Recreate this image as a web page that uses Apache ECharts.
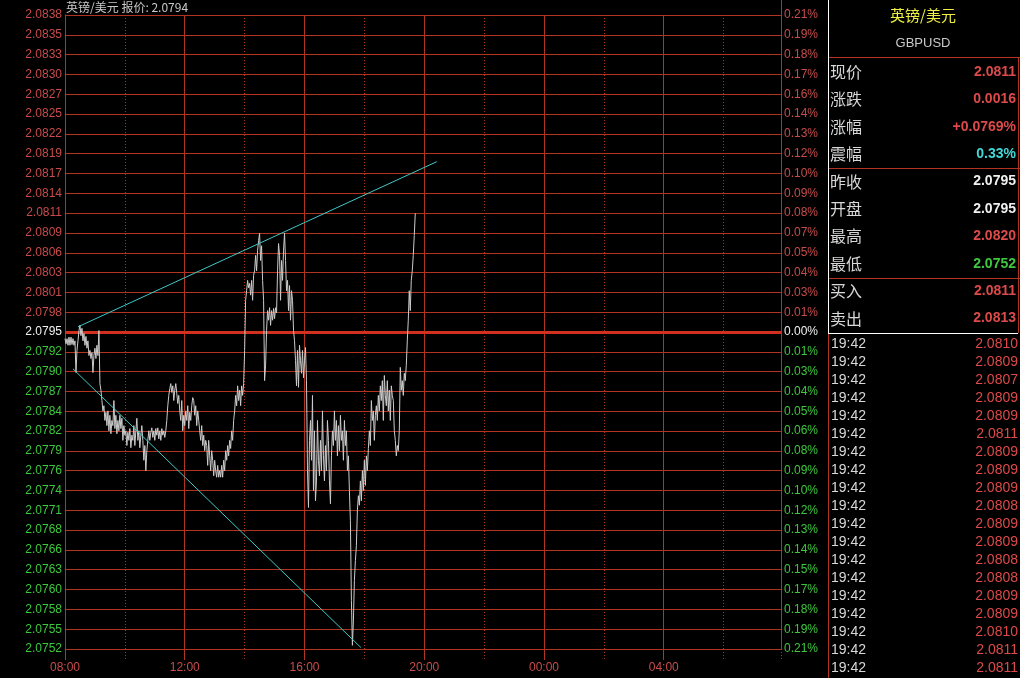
<!DOCTYPE html>
<html><head><meta charset="utf-8">
<script src="https://cdn.jsdelivr.net/npm/echarts@6/dist/echarts.min.js"></script>
<style>html,body{margin:0;padding:0;background:#000}#c{width:1020px;height:678px}</style>
</head><body><div id="c"></div>
<script>
// ---------------- data ----------------
const titleText = '英镑/美元 报价: 2.0794';
const prevClose = 2.0795;
const axisMin = 2.0752;
const axisMax = 2.0838;
const priceLabels = ['2.0838','2.0835','2.0833','2.0830','2.0827','2.0825','2.0822','2.0819','2.0817','2.0814','2.0811','2.0809','2.0806','2.0803','2.0801','2.0798','2.0795','2.0792','2.0790','2.0787','2.0784','2.0782','2.0779','2.0776','2.0774','2.0771','2.0768','2.0766','2.0763','2.0760','2.0758','2.0755','2.0752'];
const pctLabels = ['0.21%','0.19%','0.18%','0.17%','0.16%','0.14%','0.13%','0.12%','0.10%','0.09%','0.08%','0.07%','0.05%','0.04%','0.03%','0.01%','0.00%','0.01%','0.03%','0.04%','0.05%','0.06%','0.08%','0.09%','0.10%','0.12%','0.13%','0.14%','0.15%','0.17%','0.18%','0.19%','0.21%'];
const timeLabels = ['08:00','12:00','16:00','20:00','00:00','04:00'];
const sessionMinutes = 1435;      // minutes shown from 08:00
const sampleStepMin = 2;          // one price every 2 minutes from 08:00
const prices = [
2.07941,2.07934,2.07941,2.07932,2.07943,2.07932,2.07943,2.07933,2.07941,2.07932,2.07938,2.07895,2.07925,2.07938,2.07952,2.07959,2.07945,2.07955,2.07938,2.07948,
2.07932,2.07944,2.07928,2.07938,2.07918,2.07925,2.07914,2.07922,2.07895,2.07918,2.07928,2.07914,2.07932,2.07918,2.07952,2.07880,2.07871,2.07857,2.07843,2.07850,
2.07830,2.07841,2.07823,2.07843,2.07816,2.07837,2.07812,2.07830,2.07823,2.07857,2.07819,2.07837,2.07812,2.07830,2.07816,2.07837,2.07819,2.07833,2.07803,2.07823,
2.07810,2.07816,2.07796,2.07814,2.07803,2.07819,2.07793,2.07810,2.07803,2.07823,2.07796,2.07816,2.07833,2.07803,2.07816,2.07793,2.07810,2.07823,2.07803,2.07776,
2.07796,2.07762,2.07789,2.07803,2.07816,2.07803,2.07814,2.07820,2.07807,2.07816,2.07803,2.07819,2.07810,2.07820,2.07805,2.07816,2.07803,2.07819,2.07810,2.07816,
2.07807,2.07816,2.07830,2.07850,2.07864,2.07873,2.07880,2.07868,2.07877,2.07857,2.07871,2.07880,2.07867,2.07853,2.07864,2.07843,2.07830,2.07857,2.07816,2.07837,
2.07823,2.07843,2.07830,2.07850,2.07819,2.07841,2.07830,2.07850,2.07861,2.07857,2.07837,2.07850,2.07823,2.07843,2.07830,2.07816,2.07803,2.07823,2.07796,2.07810,
2.07789,2.07803,2.07796,2.07769,2.07803,2.07782,2.07762,2.07789,2.07776,2.07755,2.07776,2.07762,2.07753,2.07769,2.07753,2.07762,2.07753,2.07769,2.07753,2.07776,
2.07762,2.07789,2.07776,2.07796,2.07782,2.07803,2.07792,2.07816,2.07803,2.07830,2.07843,2.07864,2.07850,2.07877,2.07857,2.07871,2.07850,2.07877,2.07864,2.07880,
2.07925,2.07993,2.08006,2.08020,2.08010,2.08016,2.08000,2.08020,2.07993,2.08027,2.08033,2.08054,2.08033,2.08061,2.08074,2.08084,2.08047,2.08067,2.08020,2.07993,
2.07884,2.07905,2.07952,2.07979,2.07966,2.07983,2.07959,2.07979,2.07966,2.07982,2.07968,2.07983,2.07976,2.08033,2.08070,2.08054,2.07993,2.08047,2.08020,2.08061,
2.08084,2.08047,2.08006,2.08020,2.07979,2.08013,2.07966,2.08006,2.07993,2.07952,2.07938,2.07911,2.07877,2.07925,2.07875,2.07932,2.07911,2.07894,2.07925,2.07888,
2.07911,2.07929,2.07884,2.07762,2.07712,2.07803,2.07830,2.07776,2.07864,2.07735,2.07816,2.07721,2.07748,2.07830,2.07776,2.07755,2.07803,2.07762,2.07843,2.07782,
2.07748,2.07796,2.07762,2.07830,2.07803,2.07748,2.07717,2.07782,2.07816,2.07796,2.07843,2.07803,2.07830,2.07782,2.07823,2.07789,2.07837,2.07803,2.07816,2.07776,
2.07830,2.07796,2.07816,2.07762,2.07782,2.07735,2.07694,2.07586,2.07525,2.07558,2.07613,2.07640,2.07660,2.07708,2.07728,2.07715,2.07748,2.07721,2.07762,2.07735,
2.07776,2.07742,2.07782,2.07762,2.07792,2.07816,2.07796,2.07857,2.07830,2.07843,2.07803,2.07837,2.07850,2.07830,2.07864,2.07843,2.07877,2.07857,2.07884,2.07830,
2.07891,2.07864,2.07850,2.07884,2.07843,2.07871,2.07830,2.07877,2.07864,2.07857,2.07816,2.07803,2.07782,2.07796,2.07789,2.07816,2.07902,2.07871,2.07884,2.07864,
2.07894,2.07884,2.07905,2.07938,2.07966,2.08006,2.07979,2.08020,2.08033,2.08054,2.08081,2.08111
];
const upperTrend = [[26, 2.07957], [745, 2.08181]];
const lowerTrend = [[16, 2.07900], [593, 2.07522]];

const panelTitle = '英镑/美元';
const panelCode = 'GBPUSD';
const panelLabels = ['现价','涨跌','涨幅','震幅','昨收','开盘','最高','最低','买入','卖出'];
const panelValues = ['2.0811','0.0016','+0.0769%','0.33%','2.0795','2.0795','2.0820','2.0752','2.0811','2.0813'];
const tickTimes = ['19:42','19:42','19:42','19:42','19:42','19:42','19:42','19:42','19:42','19:42','19:42','19:42','19:42','19:42','19:42','19:42','19:42','19:42','19:42'];
const tickPrices = ['2.0810','2.0809','2.0807','2.0809','2.0809','2.0811','2.0809','2.0809','2.0809','2.0808','2.0809','2.0809','2.0808','2.0808','2.0809','2.0809','2.0810','2.0811','2.0811'];

// ---------------- styles ----------------
const RED = '#c84b4b', GREEN = '#3cc83c', WHITE = '#f0f0f0';
const GRID = '#b0341f';
const VRED = '#dc4a4a';
const valueColors = [VRED, VRED, VRED, '#40d8d8', WHITE, WHITE, VRED, '#40c840', VRED, VRED];
const NUMFONT = '"Liberation Sans", Arial, sans-serif';
const CJKFONT = '"Noto Sans CJK SC", sans-serif';

const rows = priceLabels.length - 1;
const step = (axisMax - axisMin) / rows;
const gridVals = [];
for (let k = 0; k <= rows; k++) gridVals.push(axisMin + k * step);
const rowIndex = v => Math.round((axisMax - v) / step);
const rowColor = v => { const k = rowIndex(v); return k < 16 ? RED : (k === 16 ? WHITE : GREEN); };

const lineData = prices.map((p, i) => [i * sampleStepMin, p]);

const graphics = [];
graphics.push({type:'text', x:66, y:7, style:{text:titleText, fill:'#c8c8c8', font:'12px ' + CJKFONT, textVerticalAlign:'middle', verticalAlign:'middle'}});
graphics.push({type:'line', shape:{x1:781.5, y1:0, x2:781.5, y2:15}, style:{stroke:GRID, lineWidth:1}});
// panel frame
graphics.push({type:'line', shape:{x1:828.5, y1:0, x2:828.5, y2:333}, style:{stroke:'#ffffff', lineWidth:1}});
graphics.push({type:'line', shape:{x1:828, y1:333.5, x2:1018, y2:333.5}, style:{stroke:'#ffffff', lineWidth:1}});
graphics.push({type:'line', shape:{x1:828.5, y1:334, x2:828.5, y2:678}, style:{stroke:'#b0341f', lineWidth:1}});
[57, 168, 278].forEach(y => graphics.push({type:'line', shape:{x1:829, y1:y+0.5, x2:1020, y2:y+0.5}, style:{stroke:GRID, lineWidth:1}}));
graphics.push({type:'line', shape:{x1:1018.5, y1:57, x2:1018.5, y2:333}, style:{stroke:GRID, lineWidth:1}});
graphics.push({type:'text', x:923, y:15, style:{text:panelTitle, fill:'#f0f040', font:'15px ' + CJKFONT, textAlign:'center', align:'center', textVerticalAlign:'middle', verticalAlign:'middle'}});
graphics.push({type:'text', x:923, y:43, style:{text:panelCode, fill:'#c8c8c8', font:'13px ' + NUMFONT, textAlign:'center', align:'center', textVerticalAlign:'middle', verticalAlign:'middle'}});
panelLabels.forEach((t, i) => {
  const y = 72 + i * 27.4;
  graphics.push({type:'text', x:830, y:y, style:{text:t, fill:'#d8d8d8', font:'16px ' + CJKFONT, textVerticalAlign:'middle', verticalAlign:'middle'}});
  graphics.push({type:'text', x:1016, y:y, style:{text:panelValues[i], fill:valueColors[i], font:'bold 14px ' + NUMFONT, textAlign:'right', align:'right', textVerticalAlign:'middle', verticalAlign:'middle'}});
});
tickTimes.forEach((t, i) => {
  const y = 344 + i * 18;
  graphics.push({type:'text', x:831, y:y, style:{text:t, fill:'#d8d8d8', font:'14px ' + NUMFONT, textVerticalAlign:'middle', verticalAlign:'middle'}});
  graphics.push({type:'text', x:1018, y:y, style:{text:tickPrices[i], fill:VRED, font:'14px ' + NUMFONT, textAlign:'right', align:'right', textVerticalAlign:'middle', verticalAlign:'middle'}});
});

const chart = echarts.init(document.getElementById('c'), null, {renderer:'canvas'});
chart.setOption({
  backgroundColor:'#000',
  animation:false,
  grid:{left:65, top:15, width:716, height:634, containLabel:false},
  xAxis:[
    {type:'value', min:0, max:sessionMinutes, interval:240,
     axisLine:{show:false},
     axisTick:{show:true, length:11, lineStyle:{color:GRID}},
     splitLine:{show:true, lineStyle:{color:GRID, width:1}},
     axisLabel:{margin:13, color:RED, fontSize:12, fontFamily:NUMFONT, showMaxLabel:false,
       formatter: v => (v % 240 === 0 && timeLabels[v/240]) ? timeLabels[v/240] : ''}},
    {type:'value', min:0, max:sessionMinutes, interval:120, position:'bottom',
     axisLine:{show:false},
     axisTick:{show:true, length:11, lineStyle:{color:GRID, type:[1,2]}},
     splitLine:{show:true, lineStyle:{color:GRID, width:1, type:[1,2]}},
     axisLabel:{show:false}}
  ],
  yAxis:[
    {type:'value', min:axisMin, max:axisMax, position:'left',
     axisLine:{show:true, lineStyle:{color:GRID}},
     axisTick:{show:false, customValues:gridVals},
     splitLine:{show:true, lineStyle:{color:GRID, width:1}},
     axisLabel:{customValues:gridVals, margin:3, fontSize:12, fontFamily:NUMFONT,
       color:(v) => rowColor(v), formatter:(v) => priceLabels[rowIndex(v)]}},
    {type:'value', min:axisMin, max:axisMax, position:'right',
     axisLine:{show:true, lineStyle:{color:GRID}},
     axisTick:{show:false, customValues:gridVals},
     splitLine:{show:false},
     axisLabel:{customValues:gridVals, margin:3, fontSize:12, fontFamily:NUMFONT,
       color:(v) => rowColor(v), formatter:(v) => pctLabels[rowIndex(v)]}}
  ],
  series:[
    {type:'line', data:lineData, showSymbol:false, symbol:'none', silent:true,
     lineStyle:{color:'#cccccc', width:1}, z:5,
     markLine:{silent:true, symbol:'none', precision:6, label:{show:false},
       lineStyle:{color:'#d2301e', width:3, type:'solid'},
       data:[{yAxis:prevClose}]}},
    {type:'line', data:upperTrend, showSymbol:false, symbol:'none', silent:true, lineStyle:{color:'#40c8c8', width:1}, z:6},
    {type:'line', data:lowerTrend, showSymbol:false, symbol:'none', silent:true, lineStyle:{color:'#40c8c8', width:1}, z:6}
  ],
  graphic:{elements:graphics}
});
</script></body></html>
